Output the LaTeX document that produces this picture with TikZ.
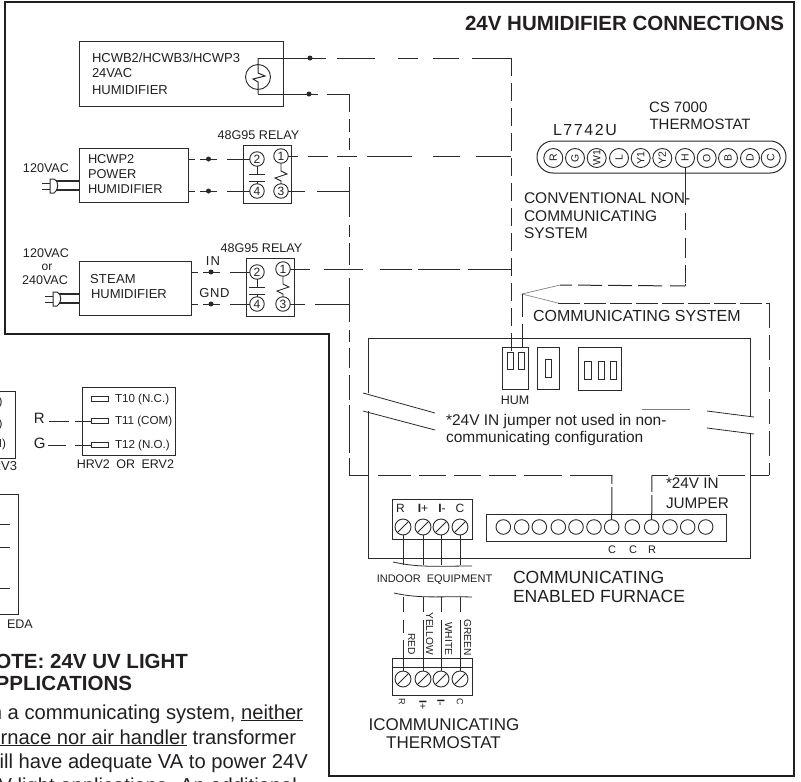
\documentclass[tikz,border=0pt]{standalone}
\usepackage{fontspec}
\setmainfont{Liberation Sans}
\usetikzlibrary{fit}
\definecolor{ink}{HTML}{231F20}
\definecolor{ln}{HTML}{2A2A2A}
\tikzset{
  fs/.style={font=\fontsize{#1}{#1}\selectfont},
  tw/.style={anchor=base west,inner sep=0pt,outer sep=0pt,text=ink},
  te/.style={anchor=base east,inner sep=0pt,outer sep=0pt,text=ink},
  tm/.style={anchor=base,inner sep=0pt,outer sep=0pt,text=ink},
  boxn/.style={draw=ln,line width=1pt,inner sep=0pt,outer sep=0pt},
  wire/.style={draw=ln,line width=1pt},
  frame/.style={draw=ink,line width=2.6pt,line join=miter},
  dotn/.style={circle,fill=ln,draw=none,minimum size=5pt,inner sep=0pt,outer sep=0pt},
  termn/.style={circle,draw=ln,line width=.9pt,minimum size=14.5pt,inner sep=0pt,outer sep=0pt,text=ink,fs=12},
  tstat/.style={circle,draw=ln,line width=.9pt,minimum size=19pt,inner sep=0pt,outer sep=0pt,text=ink,fs=10.5,rotate=90},
  stripc/.style={circle,draw=ln,line width=.9pt,minimum size=14.6pt,inner sep=0pt,outer sep=0pt},
  screw/.style={circle,draw=ln,line width=.9pt,minimum size=16pt,inner sep=0pt,outer sep=0pt},
  thin gray/.style={draw=gray,line width=.7pt},
}
\newcommand{\rbox}[5]{\node[boxn,fit={(#2,#3) (#4,#5)}] (#1) {};}
\newcommand{\screwn}[3]{\node[screw] (#1) at (#2,#3) {};
  \draw[wire,line width=.8pt] (#1.south west) -- (#1.north east);}
% name, dy, box left, right terminal x
\newcommand{\relayn}[4]{%
  \rbox{#1box}{#3}{145+#2}{#3+48.5}{203+#2}
  \node[termn] (#1t2) at (257,159+#2) {2};
  \node[termn] (#1t1) at (#4,156+#2) {1};
  \node[termn] (#1t4) at (257,191+#2) {4};
  \node[termn] (#1t3) at (#4,191+#2) {3};
  \draw[wire] (#1t2) -- (257,174+#2);
  \draw[wire] (249,174+#2) -- (265,174+#2);
  \draw[wire] (249,181+#2) -- (265,181+#2);
  \draw[wire] (257,181+#2) -- (#1t4);
  \draw[wire,line width=.9pt] (#1t1) -- (#4,171+#2) -- (#4+6,174+#2) -- (#4-6,178+#2) -- (#4,181+#2) -- (#1t3);
}
\begin{document}
\begin{tikzpicture}[x=1pt,y=-1pt]
\useasboundingbox (0,0) rectangle (801,782);
\clip (0,0) rectangle (801,782);
% outer frame
\draw[frame] (5,2) -- (794,2) -- (794,776) -- (329,776) -- (329,334) -- (5,334) -- cycle;
\node[te,fs=20.5,font=\fontsize{20.5}{20.5}\selectfont\bfseries] (title) at (784,30) {24V HUMIDIFIER CONNECTIONS};

% HCWB box
\rbox{hcwb}{79}{41}{283}{106}
\node[tw,fs=13] (hcwbA) at (92,62) {HCWB2/HCWB3/HCWP3};
\node[tw,fs=13] (hcwbB) at (92,77.5) {24VAC};
\node[tw,fs=13] (hcwbC) at (92,94) {HUMIDIFIER};
\node[circle,draw=ln,line width=.9pt,minimum size=25pt,inner sep=0pt,outer sep=0pt] (sym) at (258,77) {};
\coordinate (hw1) at (258,58);
\coordinate (hw2) at (258,94);
\draw[wire] (hw1) -- (258,73) -- (265,76) -- (253,79) -- (258,82) -- (hw2);
\node[dotn] (d1) at (310,58) {};
\node[dotn] (d2) at (309,94) {};
\coordinate (c1) at (511,58);
\coordinate (c2) at (349,94);
\coordinate (c3) at (349,475);
\coordinate (c4) at (511,156);
\coordinate (c5) at (511,269);
\coordinate (c6) at (349,191);
\coordinate (c7) at (349,304);

% HCWP2
\rbox{hcwp}{79}{148}{188}{202}
\node[tw,fs=12.8] (hcwpA) at (88,163) {HCWP2};
\node[tw,fs=12.8] (hcwpB) at (88,178) {POWER};
\node[tw,fs=12.8] (hcwpC) at (88,193) {HUMIDIFIER};
\node[tw,fs=12.6] (v120a) at (23,172) {120VAC};
\node[tm,fs=12.6] (rl1) at (258.5,139) {48G95 RELAY};
\relayn{ra}{0}{243}{281}
% plug 1
\coordinate (pa1) at (79,181); \coordinate (pa2) at (79,190);
\draw[wire,line width=1.1pt] (pa1) -- (56,181) (pa2) -- (56,190);
\draw[wire] (50,179) -- (54,179) .. controls (59,180) and (59,191) .. (54,193) -- (50,193) -- cycle;
\draw[wire] (42,183) -- (50,183) (42,189) -- (50,189);

% Steam
\rbox{steam}{79}{261}{191}{315}
\node[tw,fs=13] (stA) at (90,283) {\addfontfeature{LetterSpace=2}STEAM};
\node[tw,fs=13] (stB) at (91,298) {HUMIDIFIER};
\node[tw,fs=12.6] (v120b) at (23,257) {120VAC};
\node[tm,fs=12] (vor) at (47,270) {or};
\node[tw,fs=12.6] (v240) at (22,284) {240VAC};
\node[tm,fs=12.6] (rl2) at (261.5,252) {48G95 RELAY};
\relayn{rb}{113}{246}{283}
\node[tm,fs=13] (inl) at (213,265) {\addfontfeature{LetterSpace=8}IN};
\node[tm,fs=13] (gnd) at (214.5,297) {\addfontfeature{LetterSpace=5}GND};
\coordinate (pb1) at (79,294); \coordinate (pb2) at (79,303);
\draw[wire,line width=1.1pt] (pb1) -- (59,294) (pb2) -- (59,303);
\draw[wire] (53,292) -- (57,292) .. controls (62,293) and (62,304) .. (57,306) -- (53,306) -- cycle;
\draw[wire] (45,296) -- (53,296) (45,302) -- (53,302);

% dots on input wires
\node[dotn] (d3) at (208.5,159) {};
\node[dotn] (d4) at (208.5,191) {};
\node[dotn] (d5) at (211,272) {};
\node[dotn] (d6) at (211,304) {};
\coordinate (ha1) at (188,159); \coordinate (ha2) at (188,191);
\coordinate (hb1) at (191,272); \coordinate (hb2) at (191,304);

% left wires to relays
\draw[wire,dash pattern=on 7pt off 5pt on 17pt off 10pt on 30pt off 1pt] (ha1) -- (rat2);
\draw[wire,dash pattern=on 7pt off 5pt on 17pt off 10pt on 30pt off 1pt] (ha2) -- (rat4);
\draw[wire,dash pattern=on 7pt off 5pt on 17pt off 10pt on 30pt off 1pt] (hb1) -- (rbt2);
\draw[wire,dash pattern=on 7pt off 5pt on 17pt off 10pt on 30pt off 1pt] (hb2) -- (rbt4);

% right wires
\draw[wire,dash pattern=on 68pt off 11pt on 38pt off 23pt on 20pt off 15pt on 26pt off 13pt on 39pt off 1pt] (hw1) -- (c1);
\draw[wire,dash pattern=on 60pt off 9pt on 22pt off 1pt] (hw2) -- (c2);
\draw[wire,dash pattern=on 10pt off 10pt on 20pt off 9pt on 20pt off 10pt on 45pt off 21pt on 27pt off 16pt on 35pt off 1pt] (rat1.east) -- (c4);
\draw[wire,dash pattern=on 20pt off 14pt on 39pt off 17pt on 32pt off 6pt on 42pt off 8pt on 43pt off 1pt] (rbt1.east) -- (c5);
\draw[wire,dash pattern=on 17pt off 12pt on 32pt off 1pt] (rat3.east) -- (c6);
\draw[wire,dash pattern=on 15pt off 10pt on 34pt off 1pt] (rbt3.east) -- (c7);
% long vertical x=349
\draw[wire,dash pattern=on 18pt off 7pt on 13pt off 6pt on 12pt off 17pt on 50pt off 8pt on 12pt off 6pt on 22pt off 13pt on 44pt off 8pt on 12pt off 6pt on 20pt off 7pt on 25pt off 5pt on 48pt off 5pt on 17pt off 1pt] (c2) -- (c3);

% thermostat
\node[tw,fs=16] (l77) at (553,135) {\addfontfeature{LetterSpace=10}L7742U};
\node[tw,fs=15] (cs) at (649,112) {CS 7000};
\node[tw,fs=15] (csb) at (649.5,129) {THERMOSTAT};
\coordinate (ringa) at (537,141); \coordinate (ringb) at (786,173);
\draw[draw=ln,line width=1pt,rounded corners=15.9pt] (ringa) rectangle (ringb);
\foreach \n/\x/\t in {tR/553.3/R,tG/575/G,tWI/596.7/W1,tL/619/L,tYa/640.7/Y1,tYb/662.3/Y2,tH/685/H,tO/706.7/O,tB/728/B,tD/750/D,tC/770.7/C}
  \node[tstat] (\n) at (\x,158) {\t};

\node[tw,fs=15.5] (convA) at (524,203) {CONVENTIONAL NON-};
\node[tw,fs=15.5] (convB) at (524,221) {COMMUNICATING};
\node[tw,fs=15.5] (convC) at (524,238) {SYSTEM};
\node[tw,fs=16] (commS) at (533,321) {COMMUNICATING SYSTEM};

% HUM etc
\rbox{hum}{502}{347}{528}{389}
\rbox{humA}{507}{352}{513}{369}
\rbox{humB}{518}{352}{524}{369}
\rbox{sw}{537}{347}{559}{389}
\rbox{swA}{545}{359}{551}{377}
\rbox{sww}{578}{347}{621}{390}
\rbox{swwA}{584}{361}{591}{379}
\rbox{swwB}{598}{361}{604}{379}
\rbox{swwC}{610}{361}{616}{379}
\node[tm,fs=12.5] (huml) at (515,404) {HUM};

\coordinate (hh) at (685,286);
\coordinate (hk) at (560,285);
\coordinate (tip) at (522,294);
\coordinate (cs2) at (558,303);
\coordinate (cr) at (769,303);
\coordinate (cq) at (769,475);
\coordinate (ra1) at (652,475);
\coordinate (cc1) at (612,475);
\draw[wire,dash pattern=on 18pt off 7pt] (c1) -- (511,352);
\draw[wire,dash pattern=on 37pt off 8pt on 17pt off 8pt on 20pt off 7pt on 18pt off 1pt] (tH.west) -- (hh);
\draw[wire,dash pattern=on 15pt off 8pt on 24pt off 6pt on 24pt off 6pt on 24pt off 6pt on 24pt off 6pt] (hh) -- (hk);
\draw[thin gray] (hk) -- (tip) -- (cs2);
\draw[wire,dash pattern=on 23pt off 7pt] (tip) -- (522,352);
\draw[wire,dash pattern=on 22pt off 4pt] (cs2) -- (cr);
\draw[wire,dash pattern=on 25pt off 7pt] (cr) -- (cq);
\draw[wire,dash pattern=on 16pt off 7pt on 35pt off 8pt on 27pt off 6pt on 18pt off 1pt] (ra1) -- (cq);
\draw[wire,dash pattern=on 19pt off 10pt on 33pt off 8pt on 27pt off 8pt on 27pt off 8pt on 27pt off 8pt on 38pt off 8pt on 42pt off 1pt] (c3) -- (cc1);

% furnace outline with break
\draw[wire] (368,393) -- (368,338) -- (750,338) -- (750,416);
\draw[wire] (750,434) -- (750,558) -- (368,558) -- (368,411);
\coordinate (bA) at (363,393); \coordinate (bB) at (435,413);
\coordinate (bC) at (363,411); \coordinate (bD) at (435,430);
\coordinate (bE) at (707,411); \coordinate (bF) at (754,417);
\coordinate (bG) at (707,428); \coordinate (bH) at (754,434);
\draw[wire,line width=.8pt] (bA) -- (bB) (bC) -- (bD) (bE) -- (bF) (bG) -- (bH);
\draw[thin gray] (642,409) -- (690,409);
\node[tw,fs=15.5] (noA) at (446,425) {*24V IN jumper not used in non-};
\node[tw,fs=15.5] (noB) at (446,442) {communicating configuration};
\node[tw,fs=15.3] (jA) at (666,488) {*24V IN};
\node[tw,fs=15.3] (jB) at (666,508) {JUMPER};

% terminal strip
\rbox{strip}{486}{514}{726}{541}
\foreach \i/\x in {1/503.3,2/521.7,3/539.3,4/558.3,5/576,6/594,7/611.7,8/632.3,9/651.7,10/670,11/687.7,12/705.7}
  \node[stripc] (c\i t) at (\x,527) {};
\node[tm,fs=11] (lc1) at (612,553) {C};
\node[tm,fs=11] (lc2) at (633,553) {C};
\node[tm,fs=11] (lr1) at (652,553) {R};
\draw[wire,dash pattern=on 9pt off 3pt on 40pt off 1pt] (cc1) -- (c7t.north);
\draw[wire,dash pattern=on 17pt off 3pt on 30pt off 1pt] (ra1) -- (c9t.north);

% indoor connector
\rbox{blockA}{392}{499}{472}{539}
\node[tm,fs=12] (ctR) at (400.5,512) {R};
\node[tm,fs=12] (ctP) at (423,512) {\textbf{I}+};
\node[tm,fs=12] (ctM) at (442,512) {\textbf{I}-};
\node[tm,fs=12] (ctC) at (460,512) {C};
\screwn{sa}{403}{527}
\screwn{sb}{423}{527}
\screwn{sc}{441}{527}
\screwn{sd}{460}{527}
\coordinate (wa1) at (403,565); \coordinate (wb1) at (423,565);
\coordinate (wc1) at (441,565); \coordinate (wd1) at (460,565);
\draw[wire] (sa.south) -- (wa1);
\draw[wire] (sb.south) -- (wb1);
\draw[wire] (sc.south) -- (wc1);
\draw[wire] (sd.south) -- (wd1);
\draw[wire,line width=.8pt] (393,562) .. controls (420,568) and (440,566) .. (472,566);
\node[tm,fs=11] (indoor) at (434.5,582) {INDOOR\hspace{3pt} EQUIPMENT};
\draw[wire,line width=.8pt] (394,593) .. controls (420,599) and (440,596) .. (472,597);

% thermostat connector
\rbox{blockB}{392}{658}{472}{695}
\draw[wire] (blockB.west |- 0,667) -- (blockB.east |- 0,667);
\screwn{ta}{403}{679}
\screwn{tb}{423}{679}
\screwn{tc}{441}{679}
\screwn{td}{460}{679}
\coordinate (wa2) at (403,597); \coordinate (wb2) at (423,597);
\coordinate (wc2) at (441,597); \coordinate (wd2) at (460,597);
\draw[wire,dash pattern=on 15pt off 8pt on 13pt off 7pt on 40pt off 1pt] (wa2) -- (ta.north);
\draw[wire,dash pattern=on 15pt off 8pt on 60pt off 1pt] (wb2) -- (tb.north);
\draw[wire,dash pattern=on 15pt off 8pt on 60pt off 1pt] (wc2) -- (tc.north);
\draw[wire,dash pattern=on 15pt off 8pt on 60pt off 1pt] (wd2) -- (td.north);
\node[anchor=base west,rotate=-90,inner sep=0pt,text=ink,fs=10.2] (red) at (408,633) {RED};
\node[anchor=base west,rotate=-90,inner sep=0pt,text=ink,fs=10.2] (yel) at (426,612) {YELLOW};
\node[anchor=base west,rotate=-90,inner sep=0pt,text=ink,fs=10.2] (whi) at (445,622) {WHITE};
\node[anchor=base west,rotate=-90,inner sep=0pt,text=ink,fs=10.2] (gre) at (464,619) {GREEN};
\node[rotate=-90,inner sep=0pt,text=ink,fs=9] (bR) at (402,702) {R};
\node[rotate=-90,inner sep=0pt,text=ink,fs=10.5] (bP) at (423,705) {\textbf{I}+};
\node[rotate=-90,inner sep=0pt,text=ink,fs=10.5] (bM) at (441,703) {\textbf{I}-};
\node[rotate=-90,inner sep=0pt,text=ink,fs=9] (bC) at (460,702) {C};
\node[tm,fs=17] (iA) at (444,730) {ICOMMUNICATING};
\node[tm,fs=17] (iB) at (443.5,748) {THERMOSTAT};
\node[tw,fs=17.6] (fA) at (513,583) {COMMUNICATING};
\node[tw,fs=17.6] (fB) at (513,602) {ENABLED FURNACE};

% HRV2
\rbox{hrv}{82}{387}{175}{455}
\rbox{t10}{91}{396.5}{108}{401.5}
\rbox{t11}{91}{418.5}{108}{423.5}
\rbox{t12}{91}{442.5}{108}{447.5}
\node[tw,fs=11.6] (lt10) at (115,402) {T10 (N.C.)};
\node[tw,fs=11.6] (lt11) at (115,424) {T11 (COM)};
\node[tw,fs=11.6] (lt12) at (115,448) {T12 (N.O.)};
\node[te,fs=12.5] (hrvl) at (174,468) {HRV2\hspace{3pt} OR\hspace{3pt} ERV2};
\node[tw,fs=15] (lR) at (34,423) {R};
\node[tw,fs=15] (lG) at (34,448) {G};
\coordinate (wR) at (49,421); \coordinate (wG) at (48,445);
\draw[wire,dash pattern=on 20pt off 6pt on 20pt off 1pt] (wR) -- (t11.west);
\draw[wire,dash pattern=on 18pt off 9pt on 20pt off 1pt] (wG) -- (t12.west);

% cropped HRV3 box
\draw[wire] (0,391) -- (15,391) -- (15,458) -- (0,458);
\node[te,fs=11.6] (x1) at (2.5,405) {)};
\node[te,fs=11.6] (x2) at (2.5,427) {)};
\node[te,fs=11.6] (x3) at (6,447) {I)};
\node[te,fs=13] (x4) at (17,470) {RV3};
% cropped EDA box
\draw[wire] (0,494) -- (18,494) -- (18,614) -- (0,614);
\draw[wire] (0,524) -- (10,524) (0,547) -- (10,547) (0,588) -- (10,588);
\node[tw,fs=12.5] (eda) at (7,628) {EDA};

% note
\node[te,font=\fontsize{20.5}{20.5}\selectfont\bfseries] (nA) at (188,668) {NOTE: 24V UV LIGHT};
\node[te,font=\fontsize{20.5}{20.5}\selectfont\bfseries] (nB) at (132,690) {APPLICATIONS};
\node[te,fs=20.2] (pA) at (303,719) {In a communicating system, \underline{neither}};
\node[te,fs=20.2] (pB) at (296,744) {\underline{furnace nor air handler} transformer};
\node[te,fs=20.2] (pC) at (308,768) {will have adequate VA to power 24V};
\node[te,fs=20.2] (pD) at (297,792) {UV light applications. An additional};
\end{tikzpicture}
\end{document}
